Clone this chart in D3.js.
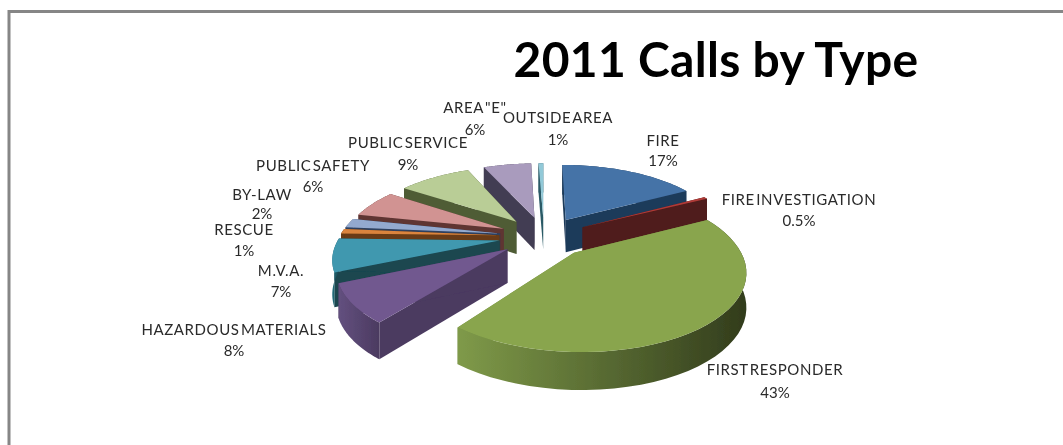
<!DOCTYPE html>
<html><head><meta charset="utf-8">
<script src="https://cdnjs.cloudflare.com/ajax/libs/d3/7.8.5/d3.min.js"></script>
<style>html,body{margin:0;padding:0;background:#fff;overflow:hidden}svg{display:block}
text{font-family:Lato,"Open Sans",sans-serif;fill:#2a2a2a}</style></head><body>
<svg id="c" width="1063" height="445"></svg>
<script>
const categories=["FIRE","FIRE INVESTIGATION","FIRST RESPONDER","HAZARDOUS MATERIALS","M.V.A.","RESCUE","BY-LAW","PUBLIC SAFETY","PUBLIC SERVICE","AREA \"E\"","OUTSIDE AREA"];
const values=[17,0.5,43,8,7,1,2,6,9,6,0.6];
const percentLabels=["17%","0.5%","43%","8%","7%","1%","2%","6%","9%","6%","1%"];
const topColors=["#4573a7","#b03a38","#89a54e","#71588f","#4198af","#db843d","#93a9cf","#d19392","#b9cd96","#a99bbd","#92c9d8"];
const sideColors=["#1e3a5a","#501d1a","#6f8a40","#4b3a60","#1a4650","#6a3b12","#2e3f5e","#5e3533","#4f5c36","#423c52","#2b5a66"];
const wallLeft=["#1e3a5a","#501d1a","#7f9a49","#63507f","#25707f","#6a3b12","#2e3f5e","#5e3533","#4f5c36","#423c52","#2b5a66"];
const wallRight=["#1e3a5a","#501d1a","#323c1c","#4b3a60","#1a4650","#6a3b12","#2e3f5e","#5e3533","#4f5c36","#423c52","#2b5a66"];
// hand placed label anchors: [centre x, first baseline, second baseline]
const labelAnchors=[[663,146,166],[799,205,226],[775,375,398],[234,335,356],[281,276,297],[244,235,256],[262,200,219],[313,171,192],[408,148,170],[475,113,135],[558,123,145]];

const svg=d3.select("#c");
const defs=svg.append("defs");
defs.append("filter").attr("id","soft").attr("x",0).attr("y",0).attr("width",1).attr("height",1)
  .append("feGaussianBlur").attr("stdDeviation",0.45);
const root=svg.append("g").attr("filter","url(#soft)");
root.append("rect").attr("width",1063).attr("height",445).attr("fill","#fff");
root.append("rect").attr("x",9).attr("y",11.5).attr("width",1200).attr("height",600).attr("fill","#fff").attr("stroke","#868686").attr("stroke-width",3);

root.append("text").attr("x",716).attr("y",76.5).attr("text-anchor","middle").attr("font-size",48).attr("font-weight",700).attr("letter-spacing",0.3).style("fill","#000").text("2011 Calls by Type");

const pie=d3.pie().sort(null).value(d=>d);
const arcs=pie(values);
// world -> screen
const cam={cx:544,cy:236.5,r:160,k:.45,D:5,h:33,explode:.28};
const sxScale=d3.scaleLinear().domain([0,1]).range([cam.cx,cam.cx+cam.r]);
const syScale=d3.scaleLinear().domain([0,1]).range([cam.cy,cam.cy-cam.r*cam.k]);
function proj(X,Y,Z){const s=cam.D/(cam.D+Y);return [sxScale(X*s),syScale(Y*s)+Z*cam.h*Math.sqrt(s)];}
const line=d3.line();

const slices=arcs.map((a,i)=>{
  const mid=(a.startAngle+a.endAngle)/2;
  const ox=Math.sin(mid)*cam.explode, oy=Math.cos(mid)*cam.explode;
  const steps=d3.range(0,41).map(j=>a.startAngle+(a.endAngle-a.startAngle)*j/40);
  const rim=steps.map(t=>[ox+Math.sin(t),oy+Math.cos(t)]);
  return {i,mid,ox,oy,rim,depth:oy};
}).sort((p,q)=>q.depth-p.depth);

slices.forEach(sl=>{
  const g=root.append("g");
  const i=sl.i;
  const gid="w"+i;
  const xs=sl.rim.map(p=>proj(p[0],p[1],0)[0]);
  const lg=defs.append("linearGradient").attr("id",gid).attr("gradientUnits","userSpaceOnUse")
    .attr("x1",d3.min(xs)).attr("x2",d3.max(xs)).attr("y1",0).attr("y2",0);
  lg.append("stop").attr("offset",0).attr("stop-color",wallLeft[i]);
  lg.append("stop").attr("offset",1).attr("stop-color",wallRight[i]);
  const apexT=proj(sl.ox,sl.oy,0),apexB=proj(sl.ox,sl.oy,1);
  const first=sl.rim[0],last=sl.rim[sl.rim.length-1];
  [first,last].forEach(p=>{
    g.append("path").attr("d",line([apexT,proj(p[0],p[1],0),proj(p[0],p[1],1),apexB])+"Z").attr("fill",sideColors[i]);
  });
  const wall=sl.rim.map(p=>proj(p[0],p[1],0)).concat(sl.rim.slice().reverse().map(p=>proj(p[0],p[1],1)));
  g.append("path").attr("d",line(wall)+"Z").attr("fill",`url(#${gid})`);
  const top=[apexT].concat(sl.rim.map(p=>proj(p[0],p[1],0)));
  g.append("path").attr("d",line(top)+"Z").attr("fill",topColors[i]);
});

categories.forEach((c,i)=>{
  const [x,y1,y2]=labelAnchors[i];
  const t=root.append("g").attr("font-size",15).attr("text-anchor","middle");
  t.append("text").attr("x",x).attr("y",y1).attr("letter-spacing",0.6).style("word-spacing","-3px").text(c);
  t.append("text").attr("x",x).attr("y",y2).text(percentLabels[i]);
});
</script></body></html>
